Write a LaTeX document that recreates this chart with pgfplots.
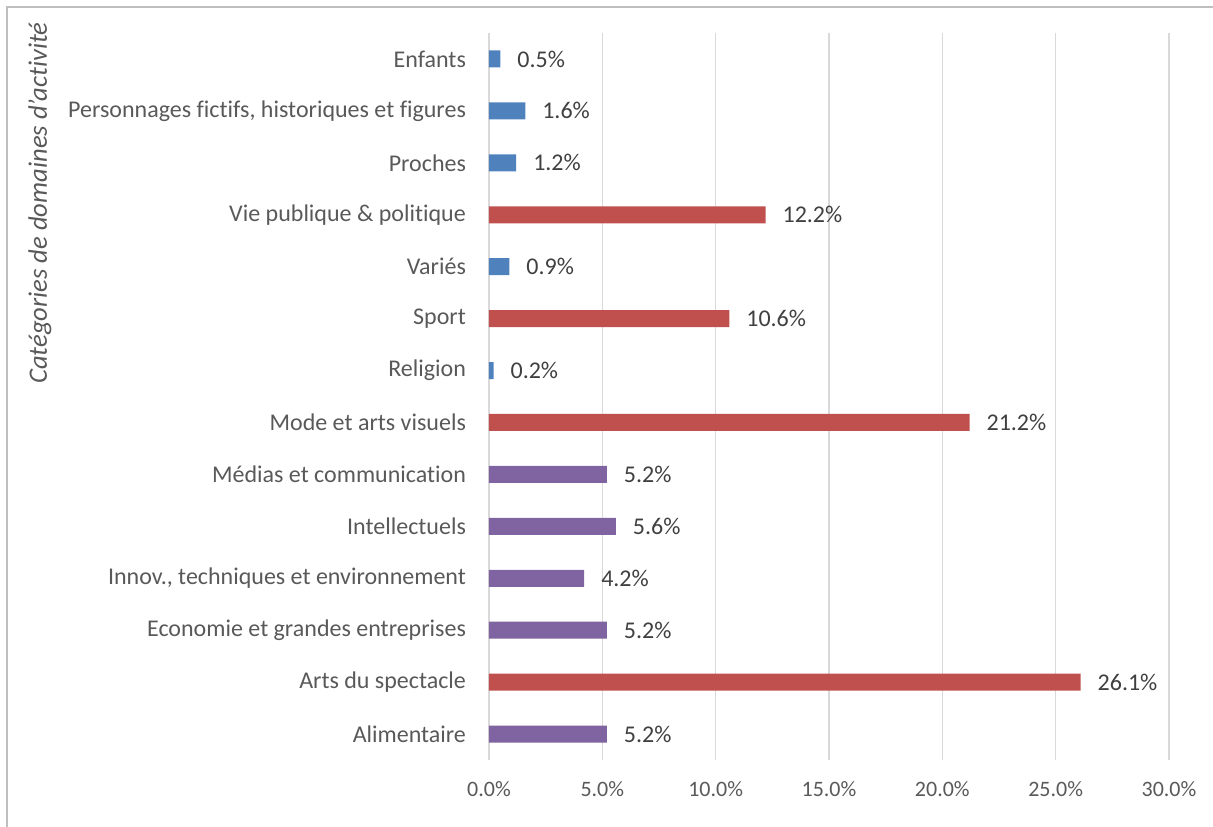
\documentclass[border=0pt]{standalone}
\usepackage{fontspec}
\setmainfont{Carlito}[Ligatures={NoCommon}]
\usepackage{pgfplots}
\pgfplotsset{compat=1.18}
\definecolor{cblue}{HTML}{4F81BD}
\definecolor{cred}{HTML}{C0504D}
\definecolor{cpurple}{HTML}{8064A2}
\definecolor{txt}{HTML}{595959}
\definecolor{dtxt}{HTML}{404040}
\definecolor{gridc}{HTML}{D9D9D9}
\definecolor{framec}{HTML}{BFBFBF}
\pgfkeys{/pgf/number format/assume math mode=true}
\begin{document}
\begin{tikzpicture}
\path[use as bounding box] (-244.5pt,-33pt) rectangle (362pt,380pt);
\draw[framec, line width=1pt] (-241pt,-40pt) -- (-241pt,376.5pt) -- (370pt,376.5pt);
\begin{axis}[
  at={(0,0)}, anchor=south west,
  scale only axis, width=340pt, height=363.5pt,
  xbar, bar width=8.5pt, bar shift=0pt,
  xmin=0, xmax=30, ymin=-0.5, ymax=13.5,
  xtick={0,5,...,30},
  xticklabel={\pgfmathprintnumber[fixed,fixed zerofill,precision=1]{\tick}\%},
  ytick={0,...,13},
  yticklabels={Alimentaire,Arts du spectacle,Economie et grandes entreprises,{Innov., techniques et environnement},Intellectuels,Médias et communication,Mode et arts visuels,Religion,Sport,Variés,Vie publique \& politique,Proches,{Personnages fictifs, historiques et figures},Enfants},
  xticklabel style={font=\fontsize{11}{13}\selectfont, text=txt, yshift=-7pt},
  yticklabel style={font=\fontsize{12}{14}\selectfont, text=txt, xshift=-8pt},
  axis line style={draw=none},
  major tick length=0pt,
  xmajorgrids, major grid style={gridc, line width=0.75pt},
  nodes near coords={\pgfmathprintnumber[fixed,fixed zerofill,precision=1]{\pgfplotspointmeta}\%},
  nodes near coords style={font=\fontsize{12}{14}\selectfont, text=dtxt, anchor=west, xshift=5pt},
  point meta=explicit,
]
\addplot[fill=cpurple, draw=none] coordinates {(5.2,0) [5.2] (5.2,2) [5.2] (4.2,3) [4.2] (5.6,4) [5.6] (5.2,5) [5.2]};
\addplot[fill=cred, draw=none] coordinates {(26.1,1) [26.1] (21.2,6) [21.2] (10.6,8) [10.6] (12.2,10) [12.2]};
\addplot[fill=cblue, draw=none] coordinates {(0.2,7) [0.2] (0.9,9) [0.9] (1.2,11) [1.2] (1.6,12) [1.6] (0.5,13) [0.5]};
\end{axis}
\node[rotate=90, font=\itshape\fontsize{13.3}{15}\selectfont, text=txt] at (-224.5pt,278.5pt) {Catégories de domaines d'activité};
\end{tikzpicture}
\end{document}
